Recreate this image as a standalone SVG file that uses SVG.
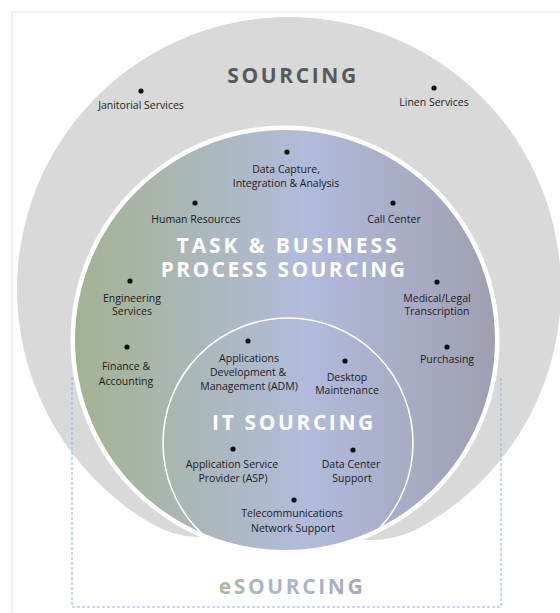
<svg xmlns="http://www.w3.org/2000/svg" width="560" height="613" viewBox="0 0 560 613">
  <defs>
    <linearGradient id="grad" x1="0" y1="0" x2="1" y2="0">
      <stop offset="0" stop-color="#a3b391"/>
      <stop offset="0.55" stop-color="#b1bbdb"/>
      <stop offset="1" stop-color="#a09fb1"/>
    </linearGradient>
    <linearGradient id="egrad" x1="0" y1="0" x2="1" y2="0">
      <stop offset="0" stop-color="#a8bb9c"/>
      <stop offset="0.5" stop-color="#aeb4d4"/>
      <stop offset="1" stop-color="#a9a8b6"/>
    </linearGradient>
    <clipPath id="midclip">
      <circle cx="285" cy="340" r="210"/>
    </clipPath>
    <style>
      .lbl { font-family: "Open Sans", "Noto Sans", sans-serif; font-size: 10.5px; fill: #1c1c1c; text-anchor: middle; }
      .head { font-family: "Open Sans", "Noto Sans", sans-serif; font-weight: bold; text-anchor: middle; }
      .dot { fill: #111; }
    </style>
  </defs>

  <rect width="560" height="613" fill="#ffffff"/>
  <path d="M12,613 V12 H560" fill="none" stroke="#e6e6e6" stroke-width="1"/>

  <g id="sourcing">
    <path d="M200,537 Q175,537.7 150,522.8 A272,272 0 1 1 420,527.4 Q395,541.1 362.5,540 Z" fill="#d9d9d9"/>
  </g>

  <g id="connectors">
    <path d="M72,377 V607 H501 V377" fill="none" stroke="#8db3dc" stroke-width="1" stroke-dasharray="3,2"/>
  </g>

  <g id="task-business">
    <circle cx="285" cy="340" r="214.5" fill="#ffffff"/>
    <circle cx="285" cy="340" r="210" fill="url(#grad)"/>
  </g>

  <g id="it-sourcing">
    <circle cx="288" cy="443" r="125" fill="none" stroke="#ffffff" stroke-width="1.6" clip-path="url(#midclip)"/>
  </g>

  <g id="headings">
    <text class="head" x="293" y="83" font-size="21" letter-spacing="2.6" fill="#58585a">SOURCING</text>
    <text class="head" font-size="21" fill="#ffffff"><tspan x="288" y="253" letter-spacing="2.9">TASK &amp; BUSINESS</tspan><tspan x="284" y="277" letter-spacing="2.4">PROCESS SOURCING</tspan></text>
    <text class="head" x="294" y="430" font-size="21" letter-spacing="2.6" fill="#ffffff">IT SOURCING</text>
    <text class="head" x="292" y="594" font-size="21" letter-spacing="2.6" fill="url(#egrad)">eSOURCING</text>
  </g>

  <g id="janitorial"><circle class="dot" cx="141" cy="91" r="2.6"/><text class="lbl" x="141" y="109">Janitorial Services</text></g>
  <g id="linen"><circle class="dot" cx="434" cy="88" r="2.6"/><text class="lbl" x="434" y="106">Linen Services</text></g>
  <g id="data-capture"><circle class="dot" cx="287" cy="152" r="2.6"/><text class="lbl" x="286" y="173">Data Capture,</text><text class="lbl" x="286" y="187">Integration &amp; Analysis</text></g>
  <g id="human-resources"><circle class="dot" cx="195" cy="203" r="2.6"/><text class="lbl" x="196" y="223">Human Resources</text></g>
  <g id="call-center"><circle class="dot" cx="393" cy="203" r="2.6"/><text class="lbl" x="394" y="223">Call Center</text></g>
  <g id="engineering"><circle class="dot" cx="130" cy="281" r="2.6"/><text class="lbl" x="132" y="302">Engineering</text><text class="lbl" x="132" y="315">Services</text></g>
  <g id="medical"><circle class="dot" cx="437" cy="282" r="2.6"/><text class="lbl" x="437" y="302">Medical/Legal</text><text class="lbl" x="437" y="315">Transcription</text></g>
  <g id="finance"><circle class="dot" cx="127" cy="347" r="2.6"/><text class="lbl" x="126" y="370">Finance &amp;</text><text class="lbl" x="126" y="385">Accounting</text></g>
  <g id="purchasing"><circle class="dot" cx="447" cy="347" r="2.6"/><text class="lbl" x="447" y="363">Purchasing</text></g>
  <g id="adm"><circle class="dot" cx="248" cy="341" r="2.6"/><text class="lbl" x="249" y="362">Applications</text><text class="lbl" x="248" y="376">Development &amp;</text><text class="lbl" x="249" y="390">Management (ADM)</text></g>
  <g id="desktop"><circle class="dot" cx="345" cy="361" r="2.6"/><text class="lbl" x="347" y="381">Desktop</text><text class="lbl" x="347" y="394">Maintenance</text></g>
  <g id="asp"><circle class="dot" cx="233" cy="449" r="2.6"/><text class="lbl" x="232" y="468">Application Service</text><text class="lbl" x="233" y="482">Provider (ASP)</text></g>
  <g id="data-center"><circle class="dot" cx="353" cy="450" r="2.6"/><text class="lbl" x="351" y="468">Data Center</text><text class="lbl" x="352" y="482">Support</text></g>
  <g id="telecom"><circle class="dot" cx="294" cy="500" r="2.6"/><text class="lbl" x="292" y="517">Telecommunications</text><text class="lbl" x="293" y="532">Network Support</text></g>
</svg>
